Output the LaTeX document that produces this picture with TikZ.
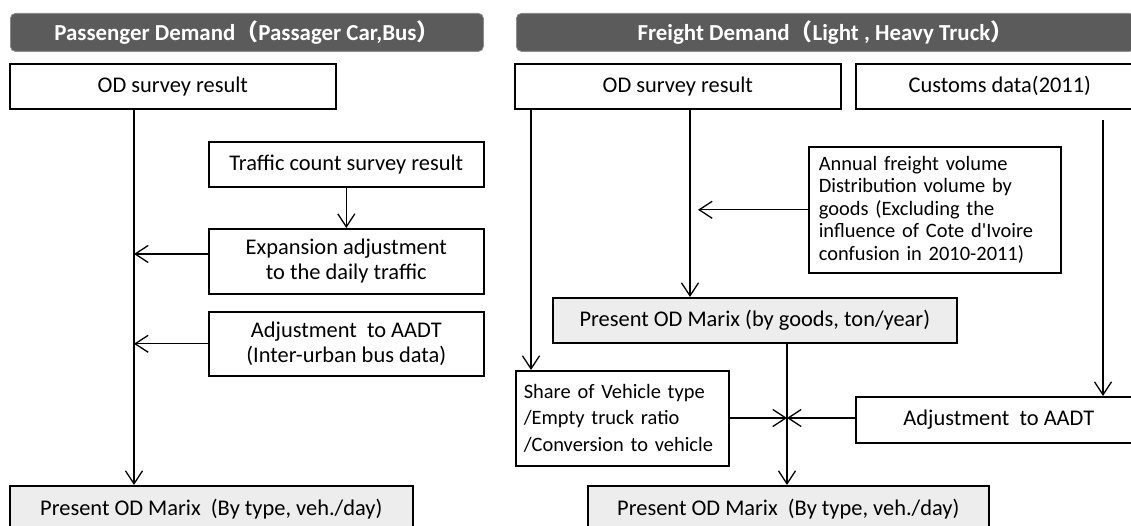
\documentclass[tikz,border=0pt]{standalone}
\usepackage{fontspec}
\setmainfont{Carlito}
\newfontfamily\cjk{Noto Sans CJK SC}
\usetikzlibrary{arrows.meta}
\definecolor{hdrgray}{HTML}{5B5B5B}
\definecolor{resgray}{HTML}{EDEDED}
\newcommand\bxfont{\fontsize{22.5}{25}\selectfont}
\newcommand\smfont{\fontsize{20.5}{22.6}\selectfont}
\newcommand\shfont{\fontsize{20.5}{26.7}\selectfont}
\newcommand\hdfont{\fontsize{23}{26}\selectfont\bfseries}
\tikzset{
  hdr/.style={fill=hdrgray, draw=hdrgray!70!white, line width=0.8bp, rounded corners=5bp,
    text=white, font=\hdfont, anchor=north west, inner sep=0pt},
  box/.style={draw, line width=1.6bp, fill=white, anchor=north west, inner sep=0pt,
    align=center, font=\bxfont},
  resbox/.style={box, fill=resgray},
  notebox/.style={draw, line width=1.6bp, fill=white, anchor=north west, inner xsep=10bp,
    inner ysep=0pt, align=left},
  arr/.style={line width=1.3bp, -{Straight Barb[length=13bp,width=17bp,line width=1.3bp]}},
  ln/.style={line width=1.3bp}
}
\begin{document}
\begin{tikzpicture}[x=1bp, y=-1bp]
\useasboundingbox (0,0) rectangle (1131,526);
\begin{scope}
\clip (0,0) rectangle (1131,526);

% ---------- passenger demand ----------
\node[hdr, minimum width=473bp, minimum height=38bp] (hp) at (10,13)
  {Passenger Demand{\cjk （}Passager Car,Bus{\cjk ）}};
\node[box, minimum width=326bp, minimum height=45bp] (od1) at (9,63) {OD survey result};
\node[box, minimum width=275bp, minimum height=45bp] (traf) at (208,141) {Traffic count survey result};
\node[box, minimum width=275bp, minimum height=65bp] (exp) at (208,228)
  {Expansion adjustment\\to the daily traffic};
\node[box, minimum width=275bp, minimum height=64bp] (aadt1) at (208,311)
  {Adjustment\ \ to AADT\\(Inter-urban bus data)};
\node[resbox, minimum width=403bp, minimum height=46bp] (res1) at (9,485)
  {Present OD Marix\ \ (By type, veh./day)};

\coordinate (l1) at (134,0);
\coordinate (e1) at (134,254);
\draw[arr] (od1.south -| l1) -- (res1.north -| l1);
\draw[arr] (traf.south) -- (exp.north);
\draw[arr] (exp.west |- e1) -- (e1);
\draw[arr] (aadt1.west) -- (aadt1.west -| l1);

% ---------- freight demand ----------
\node[hdr, minimum width=618bp, minimum height=38bp] (hf) at (516,13)
  {Freight Demand{\cjk （}Light , Heavy Truck{\cjk ）}};
\node[box, minimum width=326bp, minimum height=45bp] (od2) at (514,63) {OD survey result};
\node[box, minimum width=288bp, minimum height=45bp] (cust) at (855,63) {Customs data(2011)};
\node[notebox, minimum width=252bp, minimum height=126bp, text width=232bp, font=\smfont]
  (ann) at (808,146)
  {Annual freight volume\\Distribution volume by\\goods (Excluding the\\influence of Cote d\textquotesingle Ivoire\\confusion in 2010-2011)};
\node[resbox, minimum width=404bp, minimum height=45bp] (goods) at (552,297)
  {Present OD Marix (by goods, ton/year)};
\node[notebox, minimum width=213bp, minimum height=95bp, text width=197bp, inner xsep=8bp, font=\shfont]
  (share) at (515,370)
  {Share of Vehicle type\\/Empty truck ratio\\/Conversion to vehicle};
\node[box, minimum width=286bp, minimum height=46bp] (aadt2) at (855,396) {Adjustment\ \ to AADT};
\node[resbox, minimum width=401bp, minimum height=46bp] (res2) at (587,485)
  {Present OD Marix\ \ (By type, veh./day)};

\coordinate (l2) at (531,0);
\coordinate (m2) at (690,0);
\coordinate (m2t) at (698,0);
\coordinate (c3) at (1103,0);
\coordinate (cs) at (1103,120);
\coordinate (xc) at (787,418);
\draw[arr] (od2.south -| l2) -- (share.north -| l2);
\draw[arr] (od2.south -| m2) -- (goods.north -| m2);
\draw[arr] (ann.west) -- (ann.west -| m2t);
\draw[arr] (cs) -- (aadt2.north -| c3);
\draw[arr] (goods.south -| xc) -- (res2.north -| xc);
\draw[arr] (share.east |- xc) -- (xc);
\draw[arr] (aadt2.west |- xc) -- (xc);
\end{scope}
\end{tikzpicture}
\end{document}
